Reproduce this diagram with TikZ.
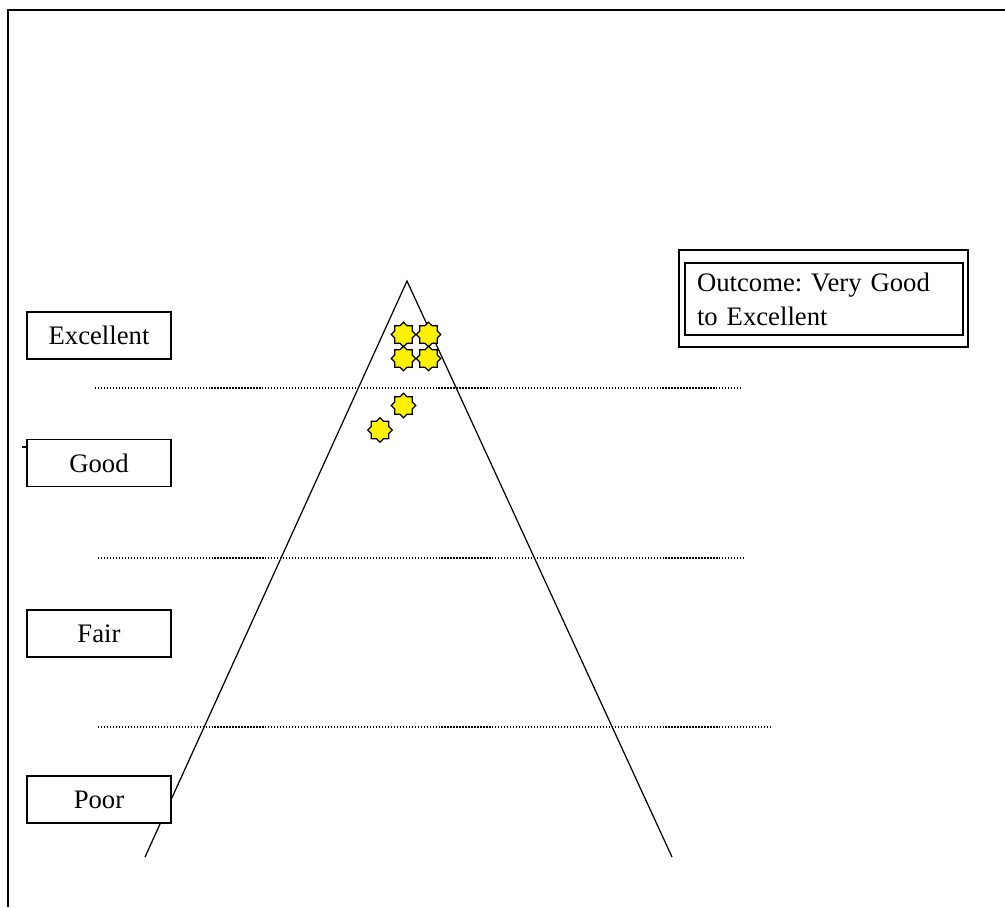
\documentclass[tikz,border=0pt]{standalone}
\usepackage{fontspec}
\setmainfont{Liberation Serif}
\usepackage{tikz}
\usetikzlibrary{shapes.geometric}

\begin{document}
\begin{tikzpicture}[x=0.02cm, y=-0.02cm,
        rating/.style={draw, line width=1pt, fill=white, minimum width=2.88cm, minimum height=0.94cm, inner sep=0pt},
        level/.style={densely dotted, line width=0.7pt},
        sticker/.style={star, star points=8, star point ratio=1.3, minimum size=0.49cm, inner sep=0pt, draw=black, line width=0.75pt, fill=yellow}]
                \useasboundingbox (0,0) rectangle (1005,907);
                \fontsize{15.2}{19.3}\selectfont\frenchspacing
                
                % frame
                \draw[line width=1.1pt] (8,907) -- (8,10) -- (1005,10);
                
                % pyramid
                \coordinate (apex) at (407,281);
                \coordinate (baseL) at (145,857);
                \coordinate (baseR) at (672,857);
                \draw[line width=0.7pt] (baseL) -- (apex) -- (baseR);
                
                % levels
                \draw[level] (95,388) -- (743,388);
                \draw[level] (98,558) -- (746,558);
                \draw[level] (98,727) -- (771,727);
                
                \node[rating] (exc) at (99,335.5) {Excellent};
                \node[rating] (good) at (99,463) {Good};
                \node[rating] (fair) at (99,633.5) {Fair};
                \node[rating] (poor) at (99,799.5) {Poor};
                \coordinate (tick) at (22,447);
                \draw[line width=0.6pt] (tick) -- (tick -| good.west);
                
                % outcome
                \node[draw, line width=0.9pt, minimum width=5.78cm, minimum height=1.94cm] (outer) at (823.5,298.5) {};
                \node[draw, line width=1.2pt, minimum width=5.56cm, minimum height=1.44cm, inner xsep=0.24cm, align=left, text width=5.08cm] (outcome) at (824,299) {Outcome: Very Good\\to Excellent};
                
                % ratings
                \node[sticker] (s1) at (403.5,334.5) {};
                \node[sticker] (s2) at (428.5,334.5) {};
                \node[sticker] (s3) at (403.5,358.5) {};
                \node[sticker] (s4) at (428.5,358.5) {};
                \node[sticker] (s5) at (403.5,405.5) {};
                \node[sticker] (s6) at (380,430) {};
            \end{tikzpicture}
\end{document}
